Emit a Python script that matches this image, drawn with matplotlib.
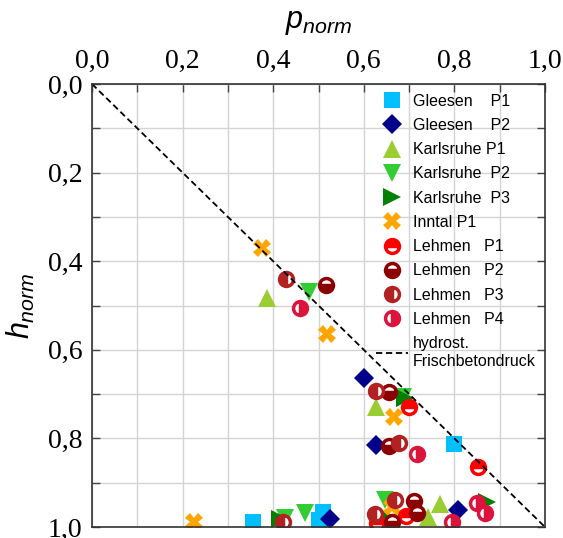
import matplotlib.pyplot as plt
import matplotlib as mpl
import numpy as np
from matplotlib.ticker import MultipleLocator, FuncFormatter

plt.rcParams['font.family'] = 'Liberation Sans'
plt.rcParams['mathtext.fontset'] = 'custom'
plt.rcParams['mathtext.it'] = 'Liberation Sans:italic'
plt.rcParams['mathtext.rm'] = 'Liberation Sans'

# data (p_norm, h_norm)
gleesen_p1_p = [0.80, 0.355, 0.51, 0.50]
gleesen_p1_h = [0.813, 0.988, 0.966, 0.985]
gleesen_p2_p = [0.600, 0.626, 0.809, 0.525]
gleesen_p2_h = [0.664, 0.815, 0.962, 0.982]
karlsruhe_p1_p = [0.387, 0.626, 0.768, 0.742, 0.665]
karlsruhe_p1_h = [0.484, 0.728, 0.948, 0.977, 0.988]
karlsruhe_p2_p = [0.480, 0.687, 0.647, 0.470, 0.426]
karlsruhe_p2_h = [0.469, 0.706, 0.939, 0.968, 0.980]
karlsruhe_p3_p = [0.691, 0.871, 0.643, 0.415]
karlsruhe_p3_h = [0.709, 0.943, 0.973, 0.982]
inntal_p1_p = [0.375, 0.519, 0.667, 0.662, 0.226]
inntal_p1_h = [0.371, 0.564, 0.752, 0.954, 0.988]
lehmen_p1_p = [0.700, 0.853, 0.693, 0.630]
lehmen_p1_h = [0.728, 0.864, 0.975, 0.992]
lehmen_p2_p = [0.517, 0.656, 0.656, 0.711, 0.718, 0.663]
lehmen_p2_h = [0.454, 0.696, 0.817, 0.941, 0.969, 0.988]
lehmen_p3_p = [0.428, 0.628, 0.677, 0.669, 0.625, 0.422]
lehmen_p3_h = [0.441, 0.692, 0.811, 0.939, 0.971, 0.988]
lehmen_p4_p = [0.459, 0.718, 0.868, 0.794, 0.849]
lehmen_p4_h = [0.506, 0.835, 0.968, 0.988, 0.945]

hydro = [0.0, 1.0]

fig = plt.figure(figsize=(5.63, 5.38), dpi=100)
ax = fig.add_axes([92/563, 1 - 527/538, 453/563, 443/538])

ms = 11.5
ax.plot(gleesen_p1_p, gleesen_p1_h, 's', color='#00BFFF', ms=ms, mew=0, label='Gleesen    P1')
ax.plot(gleesen_p2_p, gleesen_p2_h, 'D', color='#00008B', ms=ms - 1, mew=0, label='Gleesen    P2')
ax.plot(karlsruhe_p1_p, karlsruhe_p1_h, '^', color='#9ACD32', ms=ms + 1, mew=0, label='Karlsruhe P1')
ax.plot(karlsruhe_p2_p, karlsruhe_p2_h, 'v', color='#32CD32', ms=ms + 1, mew=0, label='Karlsruhe  P2')
ax.plot(karlsruhe_p3_p, karlsruhe_p3_h, '>', color='#008000', ms=ms + 1, mew=0, label='Karlsruhe  P3')
ax.plot(inntal_p1_p, inntal_p1_h, 'X', color='#FFA500', ms=ms + 1, mew=0, label='Inntal P1')

lehmen = [
    (lehmen_p1_p, lehmen_p1_h, 'red', 'top', 'Lehmen   P1'),
    (lehmen_p2_p, lehmen_p2_h, '#8B0000', 'bottom', 'Lehmen   P2'),
    (lehmen_p3_p, lehmen_p3_h, '#B22222', 'left', 'Lehmen   P3'),
    (lehmen_p4_p, lehmen_p4_h, '#DC143C', 'right', 'Lehmen   P4'),
]
for p, h, c, fs, lab in lehmen:
    ax.plot(p, h, 'o', color=c, mfc=c, mfcalt='white', mec=c, fillstyle=fs,
            ms=ms - 1.5, mew=2.5, label=lab)

ax.plot(hydro, hydro, '--', color='black', lw=1.3, dashes=(3.5, 2),
        label='hydrost.\nFrischbetondruck')

ax.set_xlim(0, 1)
ax.set_ylim(1, 0)
ax.xaxis.set_major_locator(MultipleLocator(0.2))
ax.yaxis.set_major_locator(MultipleLocator(0.2))
ax.xaxis.set_minor_locator(MultipleLocator(0.1))
ax.yaxis.set_minor_locator(MultipleLocator(0.1))
fmt = FuncFormatter(lambda v, pos: '{:.1f}'.format(v).replace('.', ','))
ax.xaxis.set_major_formatter(fmt)
ax.yaxis.set_major_formatter(fmt)
ax.xaxis.tick_top()
ax.xaxis.set_label_position('top')
ax.tick_params(which='both', direction='in', top=True, bottom=False, left=True, right=True,
               length=6, width=1, color='#444444')
ax.tick_params(which='major', labelsize=20, pad=7)
for lbl in ax.get_xticklabels() + ax.get_yticklabels():
    lbl.set_fontfamily('Liberation Serif')

ax.grid(True, which='both', color='#d4d4d4', lw=1)
ax.set_axisbelow(True)
for s in ax.spines.values():
    s.set_color('#333333')
    s.set_linewidth(1.2)

ax.set_xlabel(r'$p_{norm}$', fontsize=22, labelpad=15)
ax.set_ylabel(r'$h_{norm}$', fontsize=22, labelpad=8)

ax.legend(loc='upper left', bbox_to_anchor=(0.605, 1.0), frameon=False,
          fontsize=11.5, labelspacing=0.58, handletextpad=0.35, borderaxespad=0.2,
          handlelength=2.0)

plt.savefig('out.png', dpi=100)
